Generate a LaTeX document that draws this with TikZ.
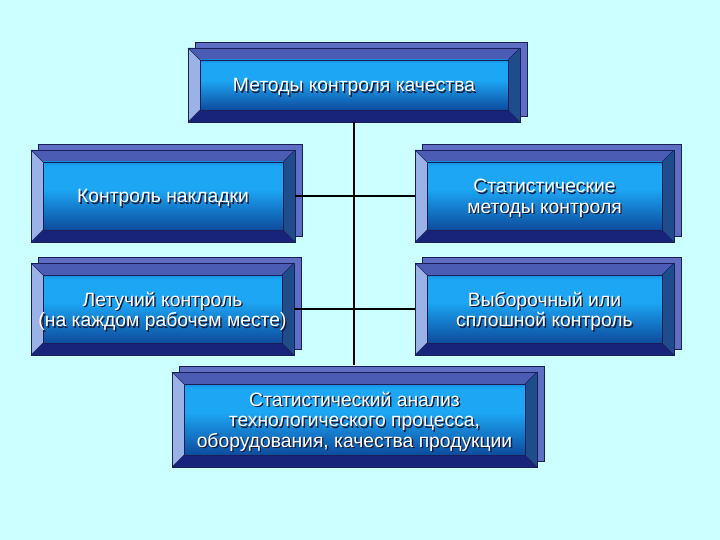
\documentclass[tikz,border=0pt]{standalone}
\usepackage{fontspec}
\setmainfont{Liberation Sans}
\definecolor{bg}{HTML}{CCFFFF}
\definecolor{shadowcol}{HTML}{5E6EC4}
\definecolor{edge}{HTML}{1A1F5A}
\definecolor{bevtop}{HTML}{4A5CB4}
\definecolor{bevleft}{HTML}{9AB2E6}
\definecolor{bevright}{HTML}{1F4C8A}
\definecolor{bevbot}{HTML}{18237A}
\definecolor{facetop}{HTML}{0C6CC4}
\definecolor{facemid}{HTML}{1CA6F4}
\definecolor{facebot}{HTML}{0B3C8E}
\definecolor{txtshadow}{HTML}{1A1A3A}
\pgfdeclareverticalshading{facesh}{100bp}{color(0bp)=(facebot); color(20bp)=(facebot); color(55bp)=(facemid); color(72bp)=(facemid); color(80bp)=(facetop); color(100bp)=(facetop)}
\tikzset{
  x=1pt, y=-1pt,
  conn/.style={draw=black, line width=1.2pt},
  boxtext/.style={text=white, align=center, font=\fontsize{19.3}{20.5}\selectfont, inner sep=0pt},
  boxtextsh/.style={boxtext, text=txtshadow},
}
% #1 name, #2 x1, #3 y1, #4 x2, #5 y2, #6 text
\newcommand\bevbox[6]{%
  \fill[shadowcol, draw=edge, line width=0.6pt] ({#2+7},{#3-6}) rectangle ({#4+7},{#5-6});
  \fill[bevtop] (#2,#3) -- (#4,#3) -- ({#4-12},{#3+12}) -- ({#2+12},{#3+12}) -- cycle;
  \fill[bevbot] (#2,#5) -- (#4,#5) -- ({#4-12},{#5-12}) -- ({#2+12},{#5-12}) -- cycle;
  \fill[bevleft] (#2,#3) -- ({#2+12},{#3+12}) -- ({#2+12},{#5-12}) -- (#2,#5) -- cycle;
  \fill[bevright] (#4,#3) -- ({#4-12},{#3+12}) -- ({#4-12},{#5-12}) -- (#4,#5) -- cycle;
  \draw[edge, line width=0.5pt] (#2,#3) -- ({#2+12},{#3+12}) (#4,#3) -- ({#4-12},{#3+12})
       (#2,#5) -- ({#2+12},{#5-12}) (#4,#5) -- ({#4-12},{#5-12});
  \node[draw=edge, line width=0.6pt, shading=facesh,
        minimum width={(#4-#2-24)*1pt}, minimum height={(#5-#3-24)*1pt}, inner sep=0pt]
        (#1f) at ({(#2+#4)/2},{(#3+#5)/2}) {};
  \node[draw=edge, line width=0.8pt, minimum width={(#4-#2)*1pt}, minimum height={(#5-#3)*1pt}, inner sep=0pt]
        (#1) at ({(#2+#4)/2},{(#3+#5)/2}) {};
  \node[boxtextsh] at ([xshift=1.4pt,yshift=-3.6pt]#1f.center) {#6};
  \node[boxtext] (#1t) at ([yshift=-2.2pt]#1f.center) {#6};
}
\begin{document}
\begin{tikzpicture}
\fill[bg] (0,0) rectangle (720,540);
\useasboundingbox (0,0) rectangle (720,540);
\bevbox{A}{188}{48}{520}{122}{Методы контроля качества}
\bevbox{B}{31}{150}{295}{242}{Контроль накладки}
\bevbox{C}{415}{150}{674}{242}{Статистические\\методы контроля}
\bevbox{D}{31}{263}{294}{355}{Летучий контроль\\(на каждом рабочем месте)}
\bevbox{E}{415}{263}{674}{355}{Выборочный или\\сплошной контроль}
\bevbox{F}{172}{372}{537}{467}{Статистический анализ\\технологического процесса,\\оборудования, качества продукции}
\draw[conn] (A.south) -- ([yshift=7pt]A.south |- F.north);
\draw[conn] (B.east) -- (C.west);
\draw[conn] (D.east) -- (E.west);
\end{tikzpicture}
\end{document}
